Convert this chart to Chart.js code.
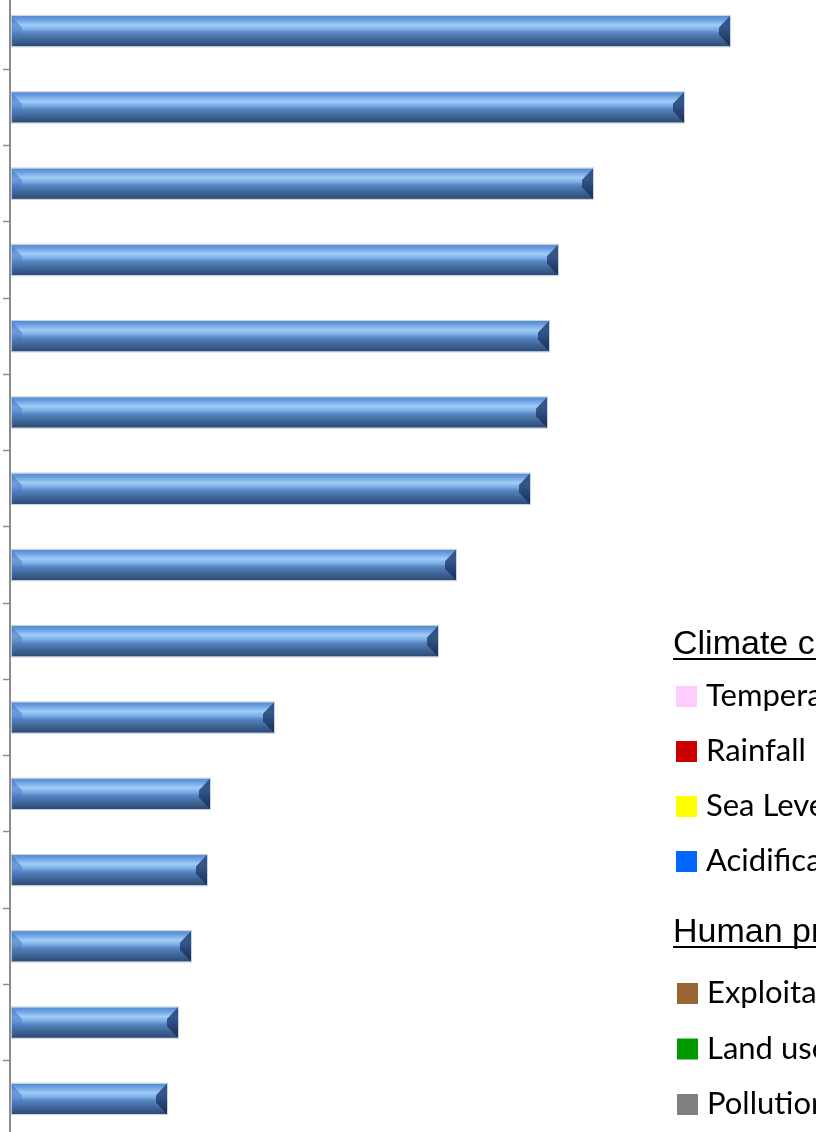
<!DOCTYPE html>
<html lang="en">
<head>
  <meta charset="UTF-8">
  <title>Pressure ranking</title>
  <script src="https://cdn.jsdelivr.net/npm/chart.js"></script>
  <style>
    html, body {
      margin: 0;
      padding: 0;
      background: #fff;
      width: 816px;
      height: 1132px;
      overflow: hidden;
    }
    #chartContainer {
      position: absolute;
      left: 0;
      top: -7px;
      width: 1010px;
      height: 1144px;
    }
  </style>
</head>
<body>
  <div id="chartContainer">
    <canvas id="rankChart" width="1010" height="1144"></canvas>
  </div>

  <script>
    // bar data, top to bottom
    const categories = ['1', '2', '3', '4', '5', '6', '7', '8', '9', '10', '11', '12', '13', '14', '15'];
    const shares = [72.0, 67.4, 58.3, 54.8, 53.9, 53.7, 52.0, 44.6, 42.8, 26.4, 20.0, 19.7, 18.1, 16.8, 15.7];

    // legend groups
    const climateTitle = 'Climate change';
    const climateDrivers = ['Temperature', 'Rainfall', 'Sea Level', 'Acidification'];
    const climateColors = ['#ffccff', '#cc0000', '#ffff00', '#0066ff'];
    const humanTitle = 'Human pressures';
    const humanDrivers = ['Exploitation', 'Land use', 'Pollution'];
    const humanColors = ['#996633', '#009900', '#808080'];

    const ctx = document.getElementById('rankChart').getContext('2d');

    // bevelled bar look, drawn over the (transparent) bar elements
    function drawBevelBar(c, x0, x1, yc, h) {
      const y0 = yc - h / 2, y1 = yc + h / 2, w = x1 - x0;
      const g = c.createLinearGradient(0, y0, 0, y1);
      g.addColorStop(0, '#5589d0');
      g.addColorStop(0.12, '#6a9fe2');
      g.addColorStop(0.3, '#a0ccf6');
      g.addColorStop(0.45, '#7aabe5');
      g.addColorStop(0.55, '#5887c4');
      g.addColorStop(0.78, '#3e6597');
      g.addColorStop(1, '#2d4a74');
      c.fillStyle = g;
      c.fillRect(x0, y0, w, h);

      const b = Math.min(11, w / 3);
      // left end facet
      const gl = c.createLinearGradient(0, y0, 0, y1);
      gl.addColorStop(0, 'rgba(70,120,195,0.7)');
      gl.addColorStop(0.5, 'rgba(80,130,200,0.55)');
      gl.addColorStop(1, 'rgba(50,85,135,0.7)');
      c.fillStyle = gl;
      c.beginPath();
      c.moveTo(x0, y0);
      c.lineTo(x0 + b, y0 + h * 0.38);
      c.lineTo(x0 + b, y1 - h * 0.38);
      c.lineTo(x0, y1);
      c.closePath();
      c.fill();

      // right end facet, in shadow
      const gr = c.createLinearGradient(0, y0, 0, y1);
      gr.addColorStop(0, 'rgba(40,75,130,0.9)');
      gr.addColorStop(0.5, 'rgba(35,65,115,0.85)');
      gr.addColorStop(1, 'rgba(25,45,80,0.9)');
      c.fillStyle = gr;
      c.beginPath();
      c.moveTo(x1, y0);
      c.lineTo(x1 - b, y0 + h * 0.38);
      c.lineTo(x1 - b, y1 - h * 0.38);
      c.lineTo(x1, y1);
      c.closePath();
      c.fill();

      c.strokeStyle = 'rgba(195,205,220,0.9)';
      c.lineWidth = 1;
      c.strokeRect(x0 + 0.5, y0 - 0.5, w, h + 1);
    }

    const bevelBars = {
      id: 'bevelBars',
      afterDatasetsDraw(chart) {
        const c = chart.ctx;
        const meta = chart.getDatasetMeta(0);
        c.save();
        meta.data.forEach(el => {
          drawBevelBar(c, el.base + 1, el.x, el.y, el.height);
        });
        c.restore();
      }
    };

    // two-group legend with underlined headings
    const groupLegend = {
      id: 'groupLegend',
      afterDraw(chart) {
        const c = chart.ctx;
        c.save();
        c.textBaseline = 'alphabetic';

        function heading(text, x, y) {
          c.fillStyle = '#000';
          c.font = '34px "Liberation Sans", Arial, sans-serif';
          c.fillText(text, x, y);
          const tw = c.measureText(text).width;
          c.fillRect(x, y + 4, tw, 2);
        }

        function items(names, colors, x, y0, step) {
          names.forEach((name, i) => {
            const y = y0 + i * step;
            c.fillStyle = colors[i];
            c.fillRect(x, y, 21, 21);
            c.fillStyle = '#000';
            c.font = '31px Lato, "Open Sans", sans-serif';
            c.fillText(name, x + 30, y + 20);
          });
        }

        heading(climateTitle, 673, 661);
        items(climateDrivers, climateColors, 676, 693, 55);
        heading(humanTitle, 673, 949);
        items(humanDrivers, humanColors, 677, 990, 55.5);
        c.restore();
      }
    };

    new Chart(ctx, {
      type: 'bar',
      data: {
        labels: categories,
        datasets: [{
          data: shares,
          backgroundColor: 'rgba(0,0,0,0)',
          borderWidth: 0,
          barPercentage: 0.4,
          categoryPercentage: 1
        }]
      },
      options: {
        indexAxis: 'y',
        responsive: false,
        animation: false,
        devicePixelRatio: 1,
        layout: { padding: { left: 3, right: 0, top: 0, bottom: 0 } },
        plugins: {
          legend: { display: false },
          tooltip: { enabled: false }
        },
        scales: {
          x: {
            display: false,
            min: 0,
            max: 100
          },
          y: {
            offset: true,
            ticks: { display: false },
            grid: {
              offset: true,
              drawOnChartArea: false,
              drawTicks: true,
              tickLength: 7,
              tickWidth: 1.5,
              tickColor: '#8c8c8c'
            },
            border: { color: '#8c8c8c', width: 2 }
          }
        }
      },
      plugins: [bevelBars, groupLegend]
    });
  </script>
</body>
</html>
